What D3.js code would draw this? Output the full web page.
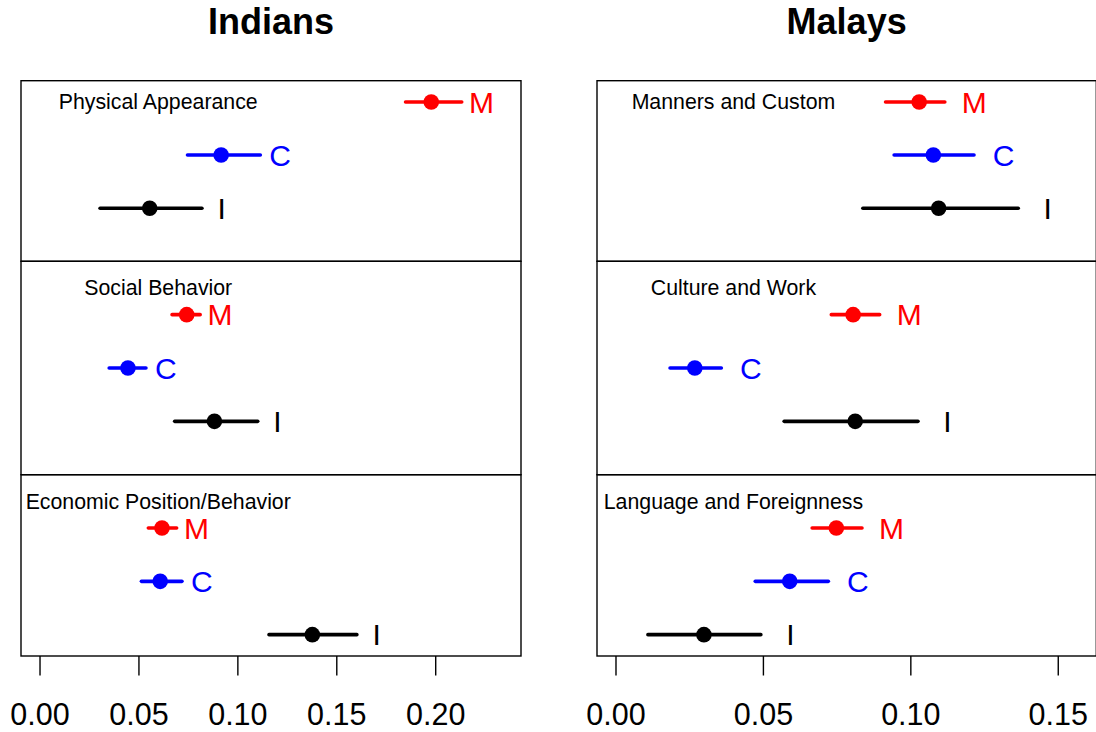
<!DOCTYPE html>
<html>
<head>
<meta charset="utf-8">
<script src="https://cdn.jsdelivr.net/npm/d3@7"></script>
<style>
  html, body { margin: 0; padding: 0; background: #fff; }
  svg { display: block; font-family: "Liberation Sans", Arial, sans-serif; }
</style>
</head>
<body>
<svg id="chart" width="1096" height="732"></svg>
<script>
// Respondent groups (rows inside each box), top to bottom
const groups = ["M", "C", "I"];
const groupColors = ["#ff0000", "#0000ff", "#000000"];
const groupRow = [3, 2, 1];

// Indians: stereotype dimensions and estimates [M, C, I]
const indianCategories = ["Physical Appearance", "Social Behavior", "Economic Position/Behavior"];
const indianEst = [[0.198, 0.0918, 0.0557], [0.0744, 0.0447, 0.0884], [0.0619, 0.0610, 0.1379]];
const indianLow = [[0.185, 0.0748, 0.0306], [0.0670, 0.0352, 0.0683], [0.0550, 0.0515, 0.1160]];
const indianHigh = [[0.2134, 0.1116, 0.0821], [0.0812, 0.0538, 0.1103], [0.0693, 0.0720, 0.1604]];
const indianTicks = [0, 0.05, 0.10, 0.15, 0.20];
const indianXlim = [0, 0.234];

// Malays: stereotype dimensions and estimates [M, C, I]
const malayCategories = ["Manners and Custom", "Culture and Work", "Language and Foreignness"];
const malayEst = [[0.1030, 0.1078, 0.1096], [0.0806, 0.0269, 0.0813], [0.0749, 0.0591, 0.0300]];
const malayLow = [[0.0916, 0.0945, 0.0839], [0.0732, 0.0185, 0.0572], [0.0667, 0.0474, 0.0110]];
const malayHigh = [[0.1117, 0.1216, 0.1366], [0.0896, 0.0359, 0.1026], [0.0836, 0.0722, 0.0493]];
const malayTicks = [0, 0.05, 0.10, 0.15];
const malayXlim = [0, 0.1568];

// Label placement in data units
const categoryLabelX = [0.06, 0.04];
const categoryLabelY = [3, 3.5, 3.5];
const groupLabelOffset = 0.01;

const svg = d3.select("#chart");

// Box geometry
const boxTop = [80.7, 261.3, 474.7];
const boxBottom = [261.3, 474.7, 656];
const rowDomains = [[0, 3.4], [0, 4], [0.6, 4]];

function padded(lim) {
  const d = (lim[1] - lim[0]) * 0.04;
  return [lim[0] - d, lim[1] + d];
}

function drawPanel(opts) {
  const x = d3.scaleLinear().domain(padded(opts.xlim)).range([opts.left, opts.right]);
  const g = svg.append("g");

  // Title
  g.append("text")
    .attr("x", (opts.left + opts.right) / 2)
    .attr("y", 34.3)
    .attr("text-anchor", "middle")
    .style("font-size", "36px")
    .style("font-weight", "bold")
    .text(opts.title);

  opts.categories.forEach((cat, k) => {
    const y = d3.scaleLinear().domain(rowDomains[k]).range([boxBottom[k], boxTop[k]]);
    const sub = g.append("g");

    sub.append("rect")
      .attr("x", opts.left).attr("y", boxTop[k])
      .attr("width", opts.right - opts.left)
      .attr("height", boxBottom[k] - boxTop[k])
      .attr("fill", "none").attr("stroke", "#000").attr("stroke-width", 1.4);

    // Category label
    sub.append("text")
      .attr("x", x(opts.labelX))
      .attr("y", y(categoryLabelY[k]) + 7.4)
      .attr("text-anchor", "middle")
      .style("font-size", "21.3px")
      .attr("fill", "#000")
      .text(cat);

    groups.forEach((grp, j) => {
      const yy = y(groupRow[j]);
      sub.append("line")
        .attr("x1", x(opts.low[k][j])).attr("x2", x(opts.high[k][j]))
        .attr("y1", yy).attr("y2", yy)
        .attr("stroke", groupColors[j]).attr("stroke-width", 3.6)
        .attr("stroke-linecap", "round");
      sub.append("circle")
        .attr("cx", x(opts.est[k][j])).attr("cy", yy).attr("r", 7.8)
        .attr("fill", groupColors[j]);
      sub.append("text")
        .attr("x", x(opts.high[k][j] + groupLabelOffset))
        .attr("y", yy + 10.7)
        .attr("text-anchor", "middle")
        .attr("fill", groupColors[j])
        .style("font-size", "30px")
        .text(grp);
    });
  });

  // Bottom axis
  const axis = d3.axisBottom(x)
    .tickValues(opts.ticks)
    .tickFormat(d3.format(".2f"))
    .tickSize(19.5)
    .tickPadding(49.5);
  const ag = g.append("g")
    .attr("transform", `translate(0,${boxBottom[2]})`)
    .call(axis);
  ag.select(".domain").remove();
  ag.selectAll(".tick line").attr("stroke", "#000").attr("stroke-width", 1.4);
  ag.selectAll(".tick text")
    .attr("fill", "#000")
    .attr("dy", 0)
    .style("font-size", "30.5px")
    .style("font-family", "'Liberation Sans', Arial, sans-serif");
}

drawPanel({
  title: "Indians", left: 21, right: 521, xlim: indianXlim, ticks: indianTicks,
  categories: indianCategories, est: indianEst, low: indianLow, high: indianHigh,
  labelX: categoryLabelX[0]
});

drawPanel({
  title: "Malays", left: 597, right: 1096.3, xlim: malayXlim, ticks: malayTicks,
  categories: malayCategories, est: malayEst, low: malayLow, high: malayHigh,
  labelX: categoryLabelX[1]
});
</script>
</body>
</html>
